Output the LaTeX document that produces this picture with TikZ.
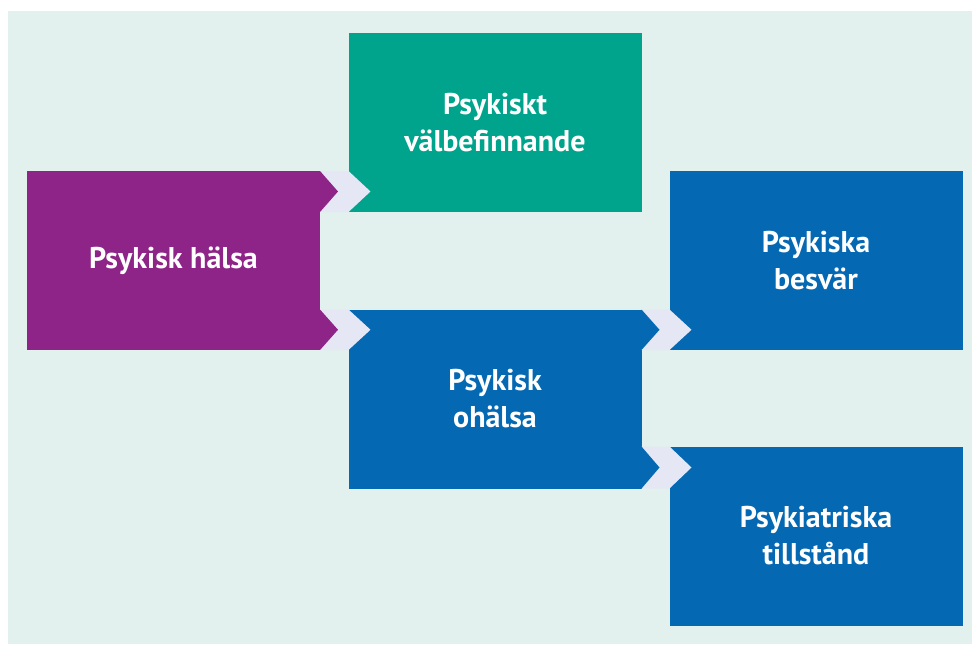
\documentclass[tikz,border=0pt]{standalone}
\usepackage{fontspec}
\setmainfont{PT Sans}
\usetikzlibrary{calc}

\definecolor{bgmint}{RGB}{226, 241, 238}
\definecolor{chevlilac}{RGB}{229, 231, 245}
\definecolor{halpurple}{RGB}{142, 36, 135}
\definecolor{valteal}{RGB}{0, 164, 140}
\definecolor{ohblue}{RGB}{5, 104, 178}

\tikzstyle{box} = [minimum width=219.75pt, minimum height=134.25pt, inner sep=0pt, outer sep=0pt,
                   text=white, align=center, font=\bfseries\fontsize{22.5}{27.75}\selectfont]
\tikzstyle{gap} = [fill=chevlilac]

% chevron from #1 to #2, band between y of #3 and y of #4, tip colour #5
\newcommand{\linkchev}[5]{%
  \coordinate (ca) at (#1.east|-#3);
  \coordinate (cb) at (#1.east|-#4);
  \coordinate (cc) at (#2.west|-#3);
  \coordinate (cd) at (#2.west|-#4);
  \fill[gap] (ca) -- (cc) -- ($(cc)!0.5!(cd)+(22,0)$) -- (cd) -- (cb) -- ($(ca)!0.5!(cb)+(18,0)$) -- cycle;
  \fill[#5] (ca) -- ($(ca)!0.5!(cb)+(18,0)$) -- (cb) -- cycle;
}

\begin{document}
\begin{tikzpicture}[x=0.75pt, y=-0.75pt]
    % Background
    \useasboundingbox (0,0) rectangle (972,644);
    \fill[bgmint] (8,11) rectangle (972,644);

    % Boxes
    \node[box, fill=halpurple] (halsa) at (173.5, 260.5) {Psykisk hälsa};
    \node[box, fill=valteal] (valbef) at (495, 122.5) {Psykiskt\\välbefinnande};
    \node[box, fill=ohblue] (ohalsa) at (495, 399) {Psykisk\\ohälsa};
    \node[box, fill=ohblue] (besvar) at (816, 260.5) {Psykiska\\besvär};
    \node[box, fill=ohblue] (tillst) at (816, 536) {Psykiatriska\\tillstånd};

    % Chevrons
    \linkchev{halsa}{valbef}{halsa.north}{valbef.south}{halpurple}
    \linkchev{halsa}{ohalsa}{ohalsa.north}{halsa.south}{halpurple}
    \linkchev{ohalsa}{besvar}{ohalsa.north}{besvar.south}{ohblue}
    \linkchev{ohalsa}{tillst}{tillst.north}{ohalsa.south}{ohblue}
\end{tikzpicture}
\end{document}
